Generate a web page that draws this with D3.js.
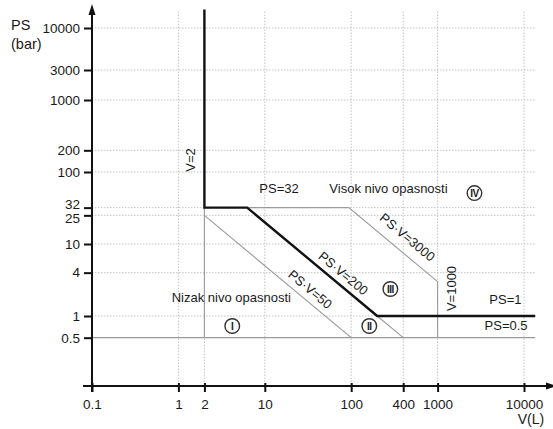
<!DOCTYPE html>
<html><head><meta charset="utf-8">
<script src="https://cdn.jsdelivr.net/npm/d3@7"></script>
<style>
html,body{margin:0;padding:0;background:#fff;}
svg text{font-family:"Liberation Sans",Arial,Helvetica,sans-serif;fill:#1a1a1a;}
</style></head><body>
<svg id="chart" width="553" height="429"></svg>
<script>
// Tick values of the two logarithmic axes
const volumeTicks = [0.1, 1, 2, 10, 100, 400, 1000, 10000];
const pressureTicks = [0.5, 1, 4, 10, 25, 32, 100, 200, 1000, 3000, 10000];

// Category boundaries as [V (L), PS (bar)] pairs
const mainBoundary = [[2, 17000], [2, 32], [6.25, 32], [200, 1], [13500, 1]];
const upperBoundary = [[6.25, 32], [93.75, 32], [1000, 3], [1000, 0.5]];
const psv50Line = [[2, 25], [100, 0.5]];
const psv200Tail = [[200, 1], [400, 0.5]];
const v2Lower = [[2, 32], [2, 0.5]];
const ps05Line = [[0.1, 0.5], [13500, 0.5]];

// Text annotations anchored in data space
const plainLabels = [
  {text: "PS=32", v: 14.6, ps: 51},
  {text: "Visok nivo opasnosti", v: 270, ps: 51},
  {text: "Nizak nivo opasnosti", v: 4.1, ps: 1.56},
  {text: "PS=1", v: 6100, ps: 1.47},
  {text: "PS=0.5", v: 6200, ps: 0.64}
];
const verticalLabels = [
  {text: "V=2", v: 1.377, ps: 147},
  {text: "V=1000", v: 1445, ps: 2.41}
];
const diagonalLabels = [
  {text: "PS·V=3000", v: 447, ps: 12.4},
  {text: "PS·V=200", v: 81, ps: 3.9},
  {text: "PS·V=50", v: 33.5, ps: 2.35}
];
const categoryMarks = [
  {text: "I", v: 4.2, ps: 0.726},
  {text: "II", v: 162, ps: 0.726},
  {text: "III", v: 284, ps: 2.37},
  {text: "IV", v: 2670, ps: 51}
];

const vMin = 0.1, vMax = 13500, psMin = 0.1;

const svg = d3.select("#chart");

const x = d3.scaleLog().domain([0.1, 10000]).range([92, 524]);
const y = d3.scaleLog().domain([0.1, 1000, 3000, 10000]).range([388, 100, 70, 28]);
const psTop = y.invert(10);

const line = d3.line().x(d => x(d[0])).y(d => y(d[1]));

// dotted grid
const grid = svg.append("g").attr("stroke", "#c4c4c4").attr("stroke-width", 1)
  .attr("stroke-dasharray", "1.5,1.5").attr("fill", "none");
grid.selectAll("line.h").data(pressureTicks.filter(d => d !== 0.5)).join("line")
  .attr("x1", x(vMin)).attr("x2", x(vMax))
  .attr("y1", d => y(d)).attr("y2", d => y(d));
grid.selectAll("line.v").data(volumeTicks.filter(d => d !== 0.1)).join("line")
  .attr("x1", d => x(d)).attr("x2", d => x(d))
  .attr("y1", y(psMin)).attr("y2", y(psTop));

// thin grey boundaries
const thin = svg.append("g").attr("fill", "none").attr("stroke", "#9a9a9a").attr("stroke-width", 1.1);
[upperBoundary, psv50Line, psv200Tail, v2Lower, ps05Line].forEach(p =>
  thin.append("path").attr("d", line(p)));

// main boundary
svg.append("path").attr("d", line(mainBoundary)).attr("fill", "none")
  .attr("stroke", "#111").attr("stroke-width", 2.4).attr("stroke-linejoin", "miter");

// axes
const yAxis = d3.axisLeft(y).tickValues(pressureTicks).tickSizeInner(8).tickSizeOuter(0)
  .tickPadding(4).tickFormat(d => String(d));
const gy = svg.append("g").attr("transform", `translate(${x(vMin)},0)`).call(yAxis);
gy.select(".domain").remove();
gy.selectAll(".tick line").attr("stroke", "#111").attr("stroke-width", 2);
gy.selectAll(".tick text").attr("font-size", 13.5).attr("fill", "#1a1a1a")
  .attr("font-family", "Liberation Sans, Arial, sans-serif")
  .attr("dy", d => d === 32 ? "0.05em" : d === 25 ? "0.5em" : "0.32em");

const xAxis = d3.axisBottom(x).tickValues(volumeTicks).tickSizeInner(6).tickSizeOuter(0)
  .tickPadding(7).tickFormat(d => String(d));
const gx = svg.append("g").attr("transform", `translate(0,${y(psMin) - 2})`).call(xAxis);
gx.select(".domain").remove();
gx.selectAll(".tick line").attr("stroke", "#111").attr("stroke-width", 2).attr("y1", -3);
gx.selectAll(".tick text").attr("font-size", 13.5).attr("fill", "#1a1a1a")
  .attr("font-family", "Liberation Sans, Arial, sans-serif");

const axisY0 = y(psMin) - 2;
svg.append("line").attr("x1", x(vMin)).attr("x2", x(vMin))
  .attr("y1", 12).attr("y2", axisY0 + 6).attr("stroke", "#111").attr("stroke-width", 2);
svg.append("path").attr("d", `M${x(vMin)},4 L${x(vMin) - 3.5},15 L${x(vMin) + 3.5},15 Z`).attr("fill", "#111");
svg.append("line").attr("x1", x(vMin) - 9).attr("x2", 548)
  .attr("y1", axisY0).attr("y2", axisY0).attr("stroke", "#111").attr("stroke-width", 2);
svg.append("path").attr("d", `M557,${axisY0} L546,${axisY0 - 3.5} L546,${axisY0 + 3.5} Z`).attr("fill", "#111");

// axis titles
svg.append("text").attr("x", 11).attr("y", 30).attr("font-size", 14.5).text("PS");
svg.append("text").attr("x", 11).attr("y", 49).attr("font-size", 14.5).text("(bar)");
svg.append("text").attr("x", 531).attr("y", 424).attr("text-anchor", "middle").attr("font-size", 14).text("V(L)");

// annotations
svg.selectAll("text.plain").data(plainLabels).join("text")
  .attr("x", d => x(d.v)).attr("y", d => y(d.ps))
  .attr("text-anchor", "middle").attr("font-size", 13).text(d => d.text);

svg.selectAll("text.vert").data(verticalLabels).join("text")
  .attr("transform", d => `translate(${x(d.v)},${y(d.ps)}) rotate(-90)`)
  .attr("text-anchor", "middle").attr("dominant-baseline", "central")
  .attr("font-size", 13).text(d => d.text);

// diagonal lines share one on-screen slope
const slopeDeg = Math.atan2(y(1) - y(10), x(10) - x(1)) * 180 / Math.PI;
svg.selectAll("text.diag").data(diagonalLabels).join("text")
  .attr("transform", d => `translate(${x(d.v)},${y(d.ps)}) rotate(${slopeDeg})`)
  .attr("text-anchor", "middle").attr("dominant-baseline", "central")
  .attr("font-size", 13).text(d => d.text);

const marks = svg.selectAll("g.cat").data(categoryMarks).join("g")
  .attr("transform", d => `translate(${x(d.v)},${y(d.ps)})`);
marks.append("circle").attr("r", 7.3).attr("fill", "#fff").attr("stroke", "#333").attr("stroke-width", 1.4);
marks.append("text").attr("text-anchor", "middle").attr("dominant-baseline", "central")
  .attr("font-size", 10).attr("font-weight", "bold").attr("letter-spacing", "-0.5")
  .text(d => d.text);
</script>
</body></html>
